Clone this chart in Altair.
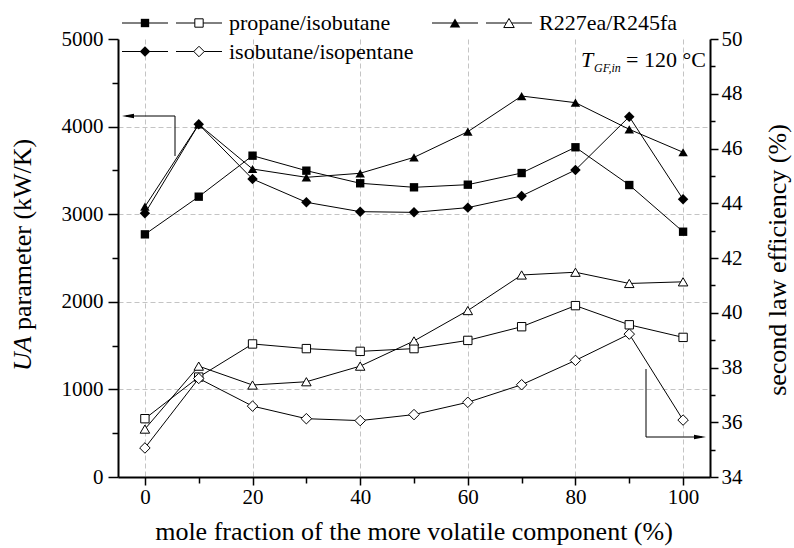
import altair as alt
import pandas as pd

# ---------------- data ----------------
x_vals = [0, 10, 20, 30, 40, 50, 60, 70, 80, 90, 100]
series_names = ["propane/isobutane", "R227ea/R245fa", "isobutane/isopentane"]

# UA parameter (kW/K), left axis (filled markers)
ua_propane_isobutane = [2770, 3200, 3668, 3497, 3353, 3307, 3337, 3470, 3764, 3333, 2800]
ua_r227ea_r245fa = [3086, 4026, 3516, 3421, 3467, 3649, 3942, 4349, 4273, 3969, 3707]
ua_isobutane_isopentane = [3010, 4026, 3402, 3136, 3029, 3021, 3075, 3208, 3505, 4113, 3170]

# second law efficiency (%), right axis (open markers)
eff_propane_isobutane = [36.13, 37.65, 38.86, 38.69, 38.59, 38.69, 38.99, 39.49, 40.26, 39.56, 39.10]
eff_r227ea_r245fa = [35.75, 38.05, 37.36, 37.48, 38.05, 38.97, 40.08, 41.38, 41.48, 41.07, 41.13]
eff_isobutane_isopentane = [35.06, 37.60, 36.59, 36.13, 36.06, 36.28, 36.73, 37.37, 38.26, 39.22, 36.08]

x_ticks = list(range(0, 101, 10))
ua_ticks = list(range(0, 5001, 500))
eff_ticks = list(range(34, 51, 1))

ua_lists = [ua_propane_isobutane, ua_r227ea_r245fa, ua_isobutane_isopentane]
eff_lists = [eff_propane_isobutane, eff_r227ea_r245fa, eff_isobutane_isopentane]

df_ua = pd.DataFrame(
    [{"x": xv, "v": yv, "series": s} for s, ys in zip(series_names, ua_lists) for xv, yv in zip(x_vals, ys)]
)
df_eff = pd.DataFrame(
    [{"x": xv, "v": yv, "series": s} for s, ys in zip(series_names, eff_lists) for xv, yv in zip(x_vals, ys)]
)
dummy = pd.DataFrame({"d": [0]})

# ---------------- style ----------------
FONT = "Liberation Serif"
W, H = 592, 438
shapes = ["square", "triangle-up", "diamond"]
sizes = [70, 110, 110]
shape_scale = alt.Scale(domain=series_names, range=shapes)
size_scale = alt.Scale(domain=series_names, range=sizes)
GRID = "#c4c4c4"

X = alt.X(
    "x:Q",
    scale=alt.Scale(domain=[-5, 105], nice=False, zero=False),
    axis=alt.Axis(
        values=x_ticks, title=None, format="d",
        labelExpr="datum.value % 20 == 0 ? datum.label : ''",
        tickSize={"condition": {"test": "datum.value % 20 == 0", "value": 8}, "value": 6},
        grid=True, gridDash=[5, 3], gridColor=GRID, gridWidth=1,
        gridOpacity={"condition": {"test": "datum.value % 20 == 0", "value": 1}, "value": 0},
        labelFont=FONT, labelFontSize=21, labelColor="black", labelPadding=1,
        domainColor="black", domainWidth=2, tickColor="black", tickWidth=1.5,
        labelFlush=False,
    ),
)

Y_ua = alt.Y(
    "v:Q",
    scale=alt.Scale(domain=[0, 5000], nice=False, zero=False),
    axis=alt.Axis(
        values=ua_ticks, title=None, format="d", orient="left",
        labelExpr="datum.value % 1000 == 0 ? datum.label : ''",
        tickSize={"condition": {"test": "datum.value % 1000 == 0", "value": 10}, "value": 6},
        grid=True, gridDash=[5, 3], gridColor=GRID, gridWidth=1,
        gridOpacity={"condition": {"test": "datum.value % 1000 == 0 && datum.value > 0 && datum.value < 5000", "value": 1}, "value": 0},
        labelFont=FONT, labelFontSize=21, labelColor="black", labelPadding=5,
        domainColor="black", domainWidth=2, tickColor="black", tickWidth=1.5,
        labelFlush=False,
    ),
)

Y_eff = alt.Y(
    "v:Q",
    scale=alt.Scale(domain=[34, 50], nice=False, zero=False),
    axis=alt.Axis(
        values=eff_ticks, title=None, format="d", orient="right",
        labelExpr="datum.value % 2 == 0 ? datum.label : ''",
        tickSize={"condition": {"test": "datum.value % 2 == 0", "value": 8}, "value": 5},
        grid=False,
        labelFont=FONT, labelFontSize=21, labelColor="black", labelPadding=3,
        domainColor="black", domainWidth=2, tickColor="black", tickWidth=1.5,
        labelFlush=False,
    ),
)

# ---------------- data layers ----------------
base_ua = alt.Chart(df_ua).encode(x=X, y=Y_ua)
lines_ua = base_ua.mark_line(color="black", strokeWidth=1).encode(detail="series:N")
points_ua = base_ua.mark_point(filled=True, color="black", opacity=1).encode(
    shape=alt.Shape("series:N", scale=shape_scale, legend=None),
    size=alt.Size("series:N", scale=size_scale, legend=None),
)

base_eff = alt.Chart(df_eff).encode(x=X, y=Y_eff)
lines_eff = base_eff.mark_line(color="black", strokeWidth=1).encode(detail="series:N")
points_eff = base_eff.mark_point(fill="white", stroke="black", strokeWidth=1, opacity=1, fillOpacity=1).encode(
    shape=alt.Shape("series:N", scale=shape_scale, legend=None),
    size=alt.Size("series:N", scale=size_scale, legend=None),
)

# ---------------- annotations (pixel layout) ----------------
def seg(x1, x2, y1, y2, w=1):
    return alt.Chart(dummy).mark_rule(color="black", strokeWidth=w).encode(
        x=alt.value(x1), x2=alt.value(x2), y=alt.value(y1), y2=alt.value(y2)
    )

def txt(t, x, y, size=22, style="normal", angle=0, align="left", baseline="alphabetic"):
    return alt.Chart(dummy).mark_text(
        text=t, font=FONT, fontSize=size, fontStyle=style, color="black",
        angle=angle, align=align, baseline=baseline,
    ).encode(x=alt.value(x), y=alt.value(y))

def sym(shape, x, y, size, filled):
    if filled:
        m = alt.Chart(dummy).mark_point(shape=shape, filled=True, color="black", opacity=1, size=size)
    else:
        m = alt.Chart(dummy).mark_point(shape=shape, fill="white", stroke="black", strokeWidth=1,
                                        opacity=1, fillOpacity=1, size=size)
    return m.encode(x=alt.value(x), y=alt.value(y))

overlays = []
# legend layout: (x of filled segment start, y row)
legend_pos = [(4, -16), (314, -16), (4, 12.5)]
for name, shp, sz, (lx, ly) in zip(series_names, shapes, sizes, legend_pos):
    overlays.append(seg(lx, lx + 46, ly, ly))
    overlays.append(sym(shp, lx + 23, ly, sz, True))
    overlays.append(seg(lx + 54, lx + 100, ly, ly))
    overlays.append(sym(shp, lx + 77, ly, sz, False))
    overlays.append(txt(name, lx + 107, ly, size=22, baseline="middle"))

# temperature annotation
overlays.append(txt("T", 463, 28, size=22, style="italic"))
overlays.append(txt("GF,in", 476, 33, size=12, style="italic"))
overlays.append(txt("= 120 °C", 508, 28, size=22))

# arrows
overlays.append(seg(57, 57, 117, 77))
overlays.append(seg(57, 8, 77, 77))
overlays.append(sym("M-1,0L1,-0.38L1,0.38Z", 10, 77, 144, True))
overlays.append(seg(528, 528, 330, 398))
overlays.append(seg(528, 584, 398, 398))
overlays.append(sym("M1,0L-1,-0.38L-1,0.38Z", 582, 398, 144, True))

# axis titles
overlays.append(txt("mole fraction of the more volatile component (%)", W / 2, 501, size=26, align="center"))
overlays.append(txt("UA", -87, 332, size=26, style="italic", angle=270))
overlays.append(txt("parameter (kW/K)", -87, 291, size=26, angle=270))
overlays.append(txt("second law efficiency (%)", 668, 221, size=26, angle=270, align="center"))

left = alt.layer(lines_ua, points_ua, *overlays)
right = alt.layer(lines_eff, points_eff)

chart = (
    alt.layer(left, right)
    .resolve_scale(y="independent")
    .properties(
        width=W, height=H,
        autosize=alt.AutoSizeParams(type="none"),
        padding={"left": 118, "top": 39, "right": 84, "bottom": 71},
        background="white",
    )
    .configure(font=FONT)
    .configure_view(stroke=None)
)

chart.save("out.html", embed_options={"renderer": "svg", "actions": False})
